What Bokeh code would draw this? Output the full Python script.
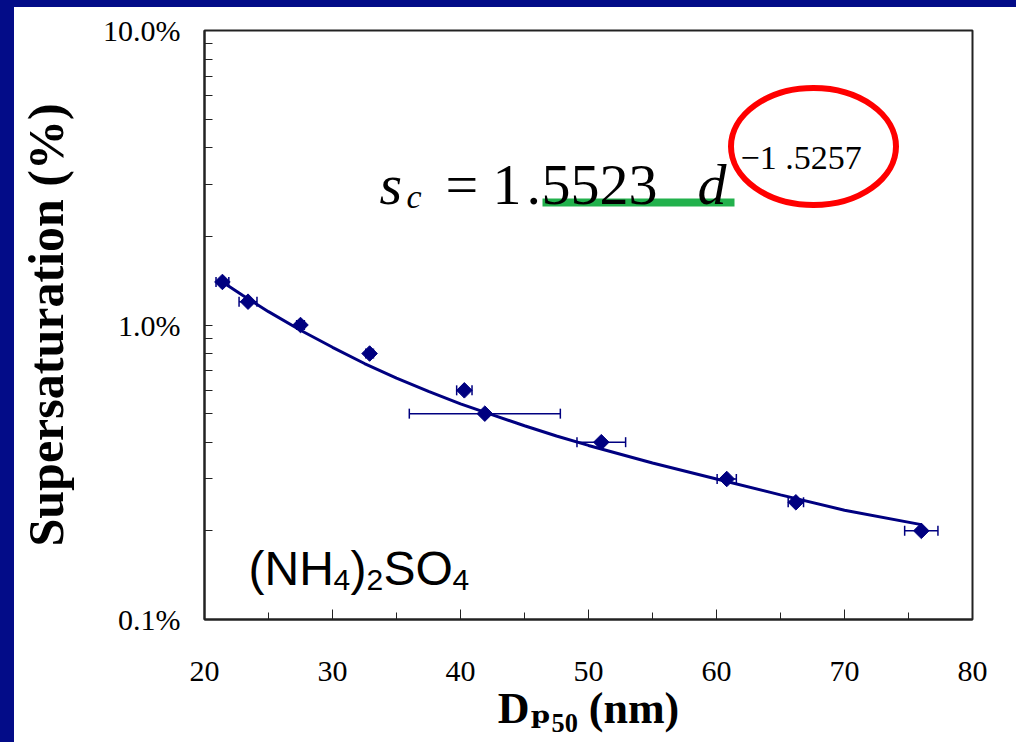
import math
from bokeh.plotting import figure
from bokeh.models import (ColumnDataSource, Whisker, TeeHead, Label, FixedTicker,
                          PrintfTickFormatter, GlobalInlineStyleSheet)
from bokeh.embed import file_html
from bokeh.resources import INLINE

# ---- data ----
diam_nm = [21.4, 23.4, 27.5, 32.9, 40.3, 41.9, 51.0, 60.8, 66.2, 76.0]
supersat_pct = [1.40, 1.20, 1.00, 0.80, 0.60, 0.50, 0.40, 0.30, 0.25, 0.20]
diam_err = [0.5, 0.7, 0.3, 0.3, 0.6, 5.9, 1.9, 0.75, 0.6, 1.3]

fit_d = [21.4, 23, 25, 27.5, 30, 32.5, 35, 37.5, 40, 42.5, 45, 47.5, 50, 55, 60, 65, 70, 76]
fit_s = [1.40, 1.26, 1.11, 0.96, 0.84, 0.74, 0.66, 0.595, 0.54, 0.495, 0.455, 0.42,
         0.39, 0.34, 0.30, 0.265, 0.235, 0.21]

x_ticks = [20, 30, 40, 50, 60, 70, 80]
x_minor = [25, 35, 45, 55, 65, 75]
y_ticks = [0.1, 1.0, 10.0]
y_minor = [0.2, 0.3, 0.4, 0.5, 0.6, 0.7, 0.8, 0.9, 2, 3, 4, 5, 6, 7, 8, 9]

NAVY = "#000080"
SERIF = "Liberation Serif"
SANS = "Liberation Sans"

# ---- layout (page pixels of the reference frame) ----
PAGE_X0, PAGE_Y0 = 0, 0          # where the canvas sits on the page
W, H = 1016, 742
P_L, P_R, P_T, P_B = 204, 972, 30, 619   # frame edges in page px
FL, FR, FT, FB = P_L - PAGE_X0, P_R - PAGE_X0, P_T - PAGE_Y0, P_B - PAGE_Y0

def dx(page_x):
    return 20 + (page_x - P_L) * 60.0 / (P_R - P_L)

def dy(page_y):
    return 10 ** (1 - 2.0 * (page_y - P_T) / (P_B - P_T))

p = figure(width=W, height=H, y_axis_type="log", x_range=(20, 80), y_range=(0.1, 10),
           output_backend="svg", toolbar_location=None,
           min_border_left=FL, min_border_right=W - FR,
           min_border_top=FT, min_border_bottom=H - FB)
p.stylesheets = [GlobalInlineStyleSheet(css=(
    "html { background: linear-gradient(to bottom, #030c88 0px, #030c88 7px, transparent 7px),"
    " linear-gradient(to right, #030c88 0px, #030c88 14px, #ffffff 14px); }"
    " body { background: transparent; }"))]

p.background_fill_color = "white"
p.border_fill_color = None
p.outline_line_color = "#222222"
p.outline_line_width = 2
p.xgrid.visible = False
p.ygrid.visible = False

# x axis
xa = p.xaxis[0]
xa.ticker = FixedTicker(ticks=x_ticks, minor_ticks=x_minor)
xa.axis_line_color = "#222222"
xa.axis_line_width = 2
xa.major_tick_in = 10
xa.major_tick_out = 0
xa.minor_tick_in = 7
xa.minor_tick_out = 0
xa.major_tick_line_color = "#222222"
xa.minor_tick_line_color = "#222222"
xa.major_label_text_font = SERIF
xa.major_label_text_font_size = "30px"
xa.major_label_text_color = "black"
xa.major_label_standoff = 42
xa.axis_label = "D\u209a\u2085\u2080 (nm)"
xa.axis_label_text_font = "Liberation Serif, DejaVu Serif"
xa.axis_label_text_font_style = "bold"
xa.axis_label_text_font_size = "44px"
xa.axis_label_text_color = "black"
xa.axis_label_standoff = 0

# y axis
ya = p.yaxis[0]
ya.ticker = FixedTicker(ticks=y_ticks, minor_ticks=y_minor)
ya.formatter = PrintfTickFormatter(format="%.1f%%")
ya.axis_line_color = "#222222"
ya.axis_line_width = 2
ya.major_tick_in = 8
ya.major_tick_out = 0
ya.minor_tick_in = 8
ya.minor_tick_out = 0
ya.major_tick_line_color = "#222222"
ya.minor_tick_line_color = "#222222"
ya.major_label_text_font = SERIF
ya.major_label_text_font_size = "30px"
ya.major_label_text_color = "black"
ya.major_label_standoff = 24
ya.axis_label = "Supersaturation (%)"
ya.axis_label_text_font = SERIF
ya.axis_label_text_font_style = "bold"
ya.axis_label_text_font_size = "50px"
ya.axis_label_text_color = "black"
ya.axis_label_standoff = 26

# fit curve
p.line(fit_d, fit_s, line_color=NAVY, line_width=3)

# data with x error bars
src = ColumnDataSource(dict(
    d=diam_nm, s=supersat_pct,
    lo=[d - e for d, e in zip(diam_nm, diam_err)],
    hi=[d + e for d, e in zip(diam_nm, diam_err)],
))
wh = Whisker(base="s", lower="lo", upper="hi", dimension="width", source=src,
             line_color=NAVY, line_width=1.5,
             lower_head=TeeHead(size=10, line_color=NAVY, line_width=1.5),
             upper_head=TeeHead(size=10, line_color=NAVY, line_width=1.5))
p.add_layout(wh)
p.scatter("d", "s", source=src, marker="square", size=11, angle=math.pi / 4,
          fill_color=NAVY, line_color=NAVY)

# ---- texts ----
def lab(text, px, py, size, font=SERIF, style="normal", color="black"):
    p.add_layout(Label(x=dx(px), y=dy(py), text=text, text_font=font,
                       text_font_size=f"{size}px", text_font_style=style,
                       text_color=color, text_baseline="alphabetic", text_align="left"))

# equation
lab("s", 379, 184, 58, style="italic")
lab("c", 406, 196, 34, style="italic")
lab("=", 445, 184, 58)
lab("1", 492, 184, 58)
lab(".", 526, 184, 58)
lab("5523", 541, 184, 58)
lab("d", 697, 184, 58, style="italic")
lab("\u22121 .5257", 740, 157, 34)

# green underline
p.line([dx(542), dx(734)], [dy(202), dy(202)], line_color="#22b14c", line_width=8)
# red ellipse
p.ellipse(x=[dx(813)], y=[dy(146)], width=165, height=117,
          width_units="screen", height_units="screen",
          fill_color=None, line_color="#ff0000", line_width=6)

# (NH4)2SO4
lab("(NH", 248, 568, 48, font=SANS)
lab("4", 333, 579, 30, font=SANS)
lab(")", 350, 568, 48, font=SANS)
lab("2", 366, 579, 30, font=SANS)
lab("SO", 383, 568, 48, font=SANS)
lab("4", 452, 579, 30, font=SANS)

open("out.html", "w").write(file_html(p, INLINE))
